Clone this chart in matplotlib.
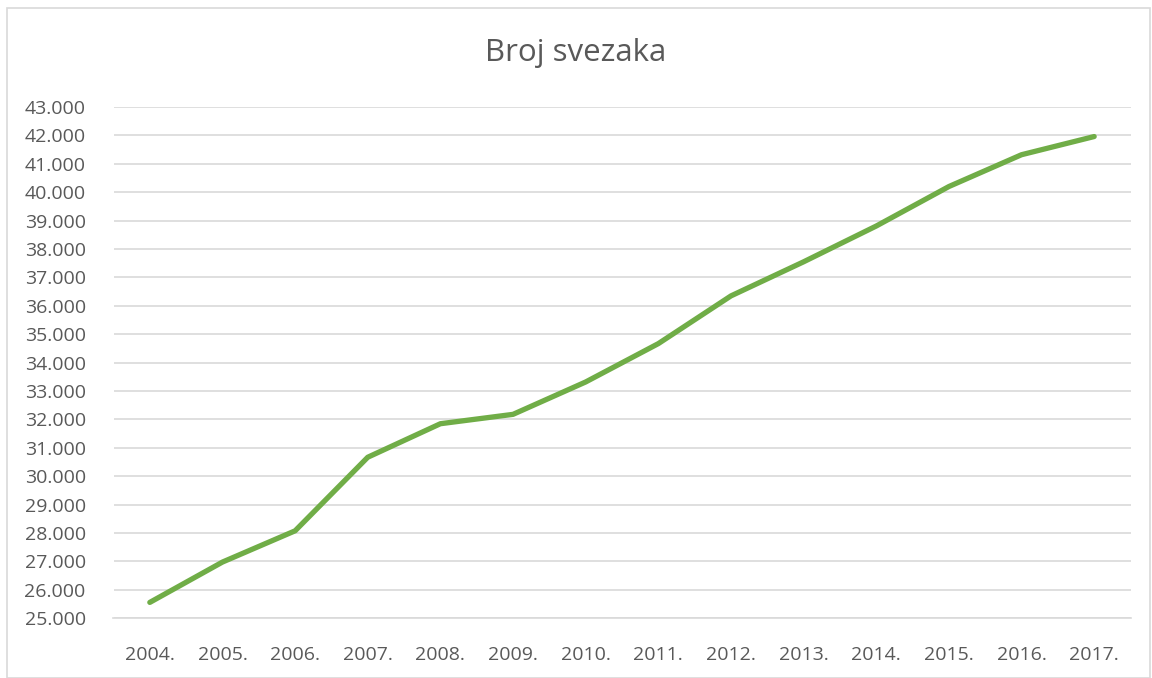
import matplotlib
matplotlib.use("Agg")
import matplotlib.pyplot as plt
from matplotlib.patches import Rectangle
from matplotlib.ticker import FuncFormatter

years = ["2004.", "2005.", "2006.", "2007.", "2008.", "2009.", "2010.",
         "2011.", "2012.", "2013.", "2014.", "2015.", "2016.", "2017."]
svezaka = [25560, 26980, 28080, 30670, 31850, 32180, 33320,
           34670, 36350, 37550, 38810, 40200, 41320, 41960]

plt.rcParams['font.family'] = ['Open Sans', 'DejaVu Sans']

fig = plt.figure(figsize=(11.52, 6.78), dpi=100)
ax = fig.add_axes([113.5 / 1152, 1 - 618.3 / 678, (1130.5 - 113.5) / 1152, (618.3 - 107) / 678])

# chart border like the Excel chart area
fig.patches.append(Rectangle((7 / 1152, 0), 1143 / 1152, 1 - 8 / 678, transform=fig.transFigure,
                             fill=False, edgecolor="#D9D9D9", linewidth=1.2))

x = list(range(len(years)))
ax.plot(x, svezaka, color="#70AD47", linewidth=3.8, solid_capstyle="round", solid_joinstyle="round", zorder=3)

ax.set_xlim(-0.5, len(years) - 0.5)
ax.set_ylim(25000, 43000)
ax.set_yticks(range(25000, 43001, 1000))
ax.yaxis.set_major_formatter(FuncFormatter(lambda v, p: "{:,.0f}".format(v).replace(",", ".")))
ax.set_xticks(x)
ax.set_xticklabels(years)

ax.grid(axis="y", color="#D9D9D9", linewidth=1.2)
ax.set_axisbelow(True)
for s in ["top", "right", "left"]:
    ax.spines[s].set_visible(False)
ax.spines["bottom"].set_color("#D9D9D9")
ax.spines["bottom"].set_linewidth(1.2)
ax.tick_params(length=0, labelsize=14, colors="#595959")
ax.tick_params(axis="x", pad=20)
ax.tick_params(axis="y", pad=20)

fig.text(0.5, 1 - 53 / 678, "Broj svezaka", ha="center", va="center", fontsize=22.5, color="#595959")

fig.savefig("out.png", dpi=100)
